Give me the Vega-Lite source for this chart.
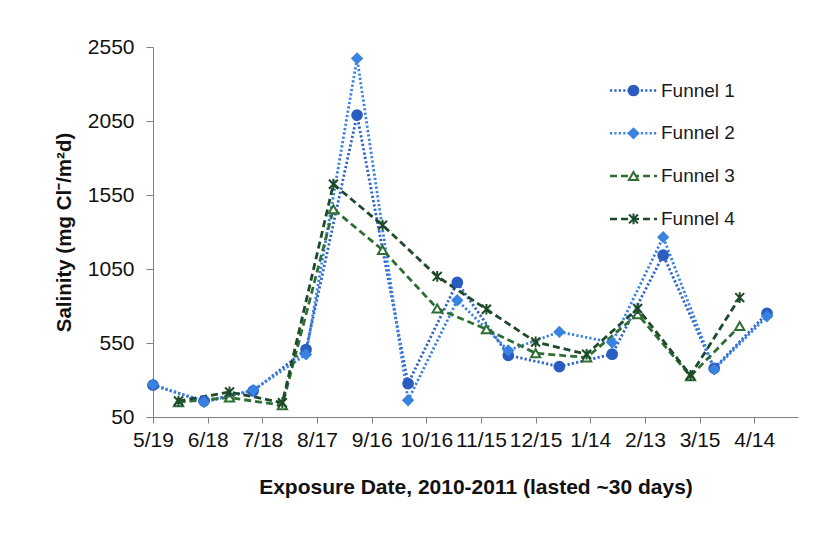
{
  "$schema": "https://vega.github.io/schema/vega-lite/v6.json",
  "width": 645,
  "height": 370,
  "autosize": {"type": "none"},
  "padding": {"left": 153, "top": 47, "right": 32, "bottom": 120},
  "background": "white",
  "config": {
    "font": "Liberation Sans",
    "view": {"stroke": null},
    "axis": {"grid": false, "domainColor": "#808080", "tickColor": "#808080", "labelColor": "#111", "titleColor": "#111", "labelFont": "Liberation Sans", "titleFont": "Liberation Sans"}
  },
  "data": {"values": [
    {"funnel": "Funnel 1", "date": "2010-05-19", "value": 265},
    {"funnel": "Funnel 1", "date": "2010-06-16", "value": 158},
    {"funnel": "Funnel 1", "date": "2010-07-13", "value": 226},
    {"funnel": "Funnel 1", "date": "2010-08-11", "value": 506},
    {"funnel": "Funnel 1", "date": "2010-09-08", "value": 2090},
    {"funnel": "Funnel 1", "date": "2010-10-06", "value": 276},
    {"funnel": "Funnel 1", "date": "2010-11-02", "value": 959},
    {"funnel": "Funnel 1", "date": "2010-11-30", "value": 467},
    {"funnel": "Funnel 1", "date": "2010-12-28", "value": 391},
    {"funnel": "Funnel 1", "date": "2011-01-26", "value": 474},
    {"funnel": "Funnel 1", "date": "2011-02-23", "value": 1143},
    {"funnel": "Funnel 1", "date": "2011-03-23", "value": 379},
    {"funnel": "Funnel 1", "date": "2011-04-21", "value": 750},
    {"funnel": "Funnel 2", "date": "2010-05-19", "value": 270},
    {"funnel": "Funnel 2", "date": "2010-06-16", "value": 150},
    {"funnel": "Funnel 2", "date": "2010-07-13", "value": 232},
    {"funnel": "Funnel 2", "date": "2010-08-11", "value": 473},
    {"funnel": "Funnel 2", "date": "2010-09-08", "value": 2473},
    {"funnel": "Funnel 2", "date": "2010-10-06", "value": 163},
    {"funnel": "Funnel 2", "date": "2010-11-02", "value": 839},
    {"funnel": "Funnel 2", "date": "2010-11-30", "value": 500},
    {"funnel": "Funnel 2", "date": "2010-12-28", "value": 625},
    {"funnel": "Funnel 2", "date": "2011-01-26", "value": 553},
    {"funnel": "Funnel 2", "date": "2011-02-23", "value": 1265},
    {"funnel": "Funnel 2", "date": "2011-03-23", "value": 372},
    {"funnel": "Funnel 2", "date": "2011-04-21", "value": 730},
    {"funnel": "Funnel 3", "date": "2010-06-02", "value": 150},
    {"funnel": "Funnel 3", "date": "2010-06-30", "value": 181},
    {"funnel": "Funnel 3", "date": "2010-07-29", "value": 129},
    {"funnel": "Funnel 3", "date": "2010-08-26", "value": 1454},
    {"funnel": "Funnel 3", "date": "2010-09-22", "value": 1179},
    {"funnel": "Funnel 3", "date": "2010-10-22", "value": 783},
    {"funnel": "Funnel 3", "date": "2010-11-18", "value": 643},
    {"funnel": "Funnel 3", "date": "2010-12-15", "value": 481},
    {"funnel": "Funnel 3", "date": "2011-01-12", "value": 452},
    {"funnel": "Funnel 3", "date": "2011-02-09", "value": 744},
    {"funnel": "Funnel 3", "date": "2011-03-10", "value": 326},
    {"funnel": "Funnel 3", "date": "2011-04-06", "value": 665},
    {"funnel": "Funnel 4", "date": "2010-06-02", "value": 158},
    {"funnel": "Funnel 4", "date": "2010-06-30", "value": 219},
    {"funnel": "Funnel 4", "date": "2010-07-29", "value": 147},
    {"funnel": "Funnel 4", "date": "2010-08-26", "value": 1623},
    {"funnel": "Funnel 4", "date": "2010-09-22", "value": 1346},
    {"funnel": "Funnel 4", "date": "2010-10-22", "value": 1000},
    {"funnel": "Funnel 4", "date": "2010-11-18", "value": 778},
    {"funnel": "Funnel 4", "date": "2010-12-15", "value": 557},
    {"funnel": "Funnel 4", "date": "2011-01-12", "value": 474},
    {"funnel": "Funnel 4", "date": "2011-02-09", "value": 783},
    {"funnel": "Funnel 4", "date": "2011-03-10", "value": 332},
    {"funnel": "Funnel 4", "date": "2011-04-06", "value": 857}
  ]},
  "encoding": {
    "x": {
      "field": "date", "type": "temporal",
      "scale": {"type": "utc", "domain": [{"year": 2010, "month": 5, "date": 19, "utc": true}, {"year": 2011, "month": 5, "date": 8, "utc": true}]},
      "axis": {
        "title": "Exposure Date, 2010-2011 (lasted ~30 days)",
        "format": "%-m/%-d",
        "values": [
          {"year": 2010, "month": 5, "date": 19, "utc": true},
          {"year": 2010, "month": 6, "date": 18, "utc": true},
          {"year": 2010, "month": 7, "date": 18, "utc": true},
          {"year": 2010, "month": 8, "date": 17, "utc": true},
          {"year": 2010, "month": 9, "date": 16, "utc": true},
          {"year": 2010, "month": 10, "date": 16, "utc": true},
          {"year": 2010, "month": 11, "date": 15, "utc": true},
          {"year": 2010, "month": 12, "date": 15, "utc": true},
          {"year": 2011, "month": 1, "date": 14, "utc": true},
          {"year": 2011, "month": 2, "date": 13, "utc": true},
          {"year": 2011, "month": 3, "date": 15, "utc": true},
          {"year": 2011, "month": 4, "date": 14, "utc": true}
        ],
        "labelFontSize": 21, "labelPadding": 6, "tickSize": 6, "labelOverlap": false, "labelFlush": false,
        "titleFontSize": 21, "titleFontWeight": "bold", "titlePadding": 26
      }
    },
    "y": {
      "field": "value", "type": "quantitative",
      "scale": {"domain": [50, 2550], "nice": false, "zero": false},
      "axis": {
        "title": "Salinity (mg Cl⁻/m²d)",
        "format": "d",
        "values": [50, 550, 1050, 1550, 2050, 2550],
        "labelFontSize": 21, "labelPadding": 12, "tickSize": 7, "labelOverlap": false,
        "titleFontSize": 20.5, "titleFontWeight": "bold", "titlePadding": 13
      }
    }
  },
  "layer": [
    {
      "mark": {"type": "line", "strokeWidth": 2.8},
      "encoding": {
        "color": {
          "field": "funnel", "type": "nominal",
          "scale": {"domain": ["Funnel 1", "Funnel 2", "Funnel 3", "Funnel 4"], "range": ["#2f63c8", "#3a82e0", "#2f6e35", "#1d4a2a"]},
          "legend": {"title": null, "orient": "none", "legendX": 471, "legendY": 34, "padding": 0, "labelFontSize": 19, "labelColor": "#1a1a1a", "symbolType": "M-4.7,0H4.7", "symbolSize": 100, "symbolStrokeWidth": 2.5, "labelOffset": 18, "rowPadding": 22.8}
        },
        "strokeDash": {
          "field": "funnel", "type": "nominal",
          "scale": {"domain": ["Funnel 1", "Funnel 2", "Funnel 3", "Funnel 4"], "range": [[2.2, 2.2], [2.2, 2.2], [7, 4], [7, 4]]},
          "legend": {"title": null, "orient": "none", "legendX": 471, "legendY": 34, "padding": 0, "labelFontSize": 19, "labelColor": "#1a1a1a", "symbolType": "M-4.7,0H4.7", "symbolSize": 100, "symbolStrokeWidth": 2.5, "labelOffset": 18, "rowPadding": 22.8}
        }
      }
    },
    {
      "mark": {"type": "point", "strokeWidth": 2, "opacity": 1},
      "encoding": {
        "shape": {
          "field": "funnel", "type": "nominal",
          "scale": {"range": ["circle", "diamond", "triangle-up", "M-1,-1L1,1M-1,1L1,-1M0,-1.2L0,1.2"]},
          "legend": {"title": null, "orient": "none", "legendX": 471, "legendY": 34, "padding": 0, "labelFontSize": 19, "labelOpacity": 0, "symbolStrokeWidth": 2, "labelOffset": 18, "rowPadding": 22.8}
        },
        "size": {
          "field": "funnel", "type": "nominal",
          "scale": {"range": [95, 80, 95, 110]},
          "legend": {"title": null, "orient": "none", "legendX": 471, "legendY": 34, "padding": 0, "labelFontSize": 19, "labelOpacity": 0, "symbolStrokeWidth": 2, "labelOffset": 18, "rowPadding": 22.8}
        },
        "fill": {
          "field": "funnel", "type": "nominal",
          "scale": {"range": ["#2b5cc0", "#3a82e0", "#ffffff", "#ffffff"]},
          "legend": {"title": null, "orient": "none", "legendX": 471, "legendY": 34, "padding": 0, "labelFontSize": 19, "labelOpacity": 0, "symbolStrokeWidth": 2, "labelOffset": 18, "rowPadding": 22.8}
        },
        "stroke": {
          "field": "funnel", "type": "nominal",
          "scale": {"range": ["#2b5cc0", "#3a82e0", "#2f6e35", "#1d4a2a"]},
          "legend": {"title": null, "orient": "none", "legendX": 471, "legendY": 34, "padding": 0, "labelFontSize": 19, "labelOpacity": 0, "symbolStrokeWidth": 2, "labelOffset": 18, "rowPadding": 22.8}
        }
      }
    }
  ]
}
